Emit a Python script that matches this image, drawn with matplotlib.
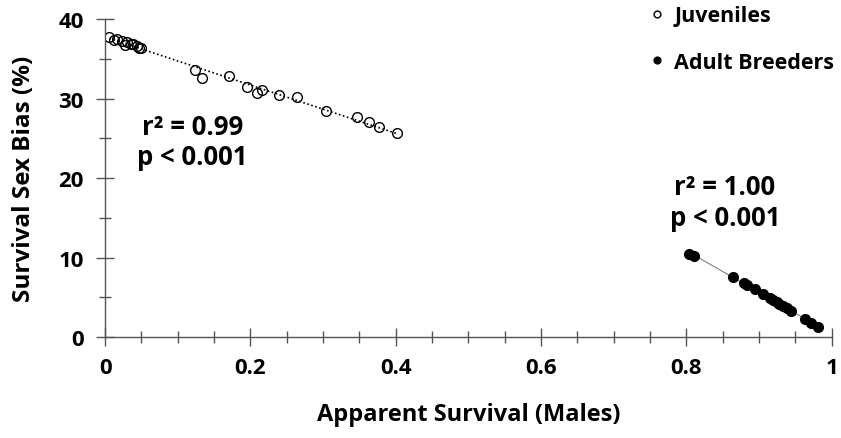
import numpy as np
import matplotlib.pyplot as plt
from matplotlib.ticker import MultipleLocator

plt.rcParams['font.family'] = ['Open Sans', 'DejaVu Sans']
plt.rcParams['font.weight'] = 'bold'

# juveniles: apparent survival of males vs survival sex bias (%)
juv_x = [0.006, 0.012, 0.017, 0.023, 0.028, 0.030, 0.035, 0.039, 0.044, 0.047, 0.050,
         0.124, 0.134, 0.171, 0.195, 0.209, 0.216, 0.239, 0.264, 0.304, 0.347, 0.363,
         0.377, 0.401]
juv_y = [37.7, 37.4, 37.5, 37.3, 36.7, 37.1, 36.9, 36.9, 36.6, 36.4, 36.4,
         33.6, 32.6, 32.8, 31.5, 30.7, 31.1, 30.4, 30.2, 28.5, 27.7, 27.0,
         26.4, 25.7]

# adult breeders
adu_x = [0.804, 0.810, 0.864, 0.879, 0.883, 0.895, 0.906, 0.915, 0.919, 0.924,
         0.928, 0.933, 0.938, 0.944, 0.963, 0.972, 0.981]
adu_y = [10.5, 10.2, 7.6, 6.8, 6.6, 6.0, 5.4, 4.9, 4.6, 4.4,
         4.1, 3.9, 3.6, 3.3, 2.3, 1.8, 1.2]

juv_stats = "r² = 0.99\np < 0.001"
adu_stats = "r² = 1.00\np < 0.001"

fig = plt.figure(figsize=(8.41, 4.39), dpi=100)
ax = fig.add_axes([0.125, 0.230, 0.864, 0.724])

# trendlines
jx = np.array(juv_x)
jf = np.polyfit(jx, juv_y, 1)
ax.plot([jx.min(), jx.max()], np.polyval(jf, [jx.min(), jx.max()]),
        ls=(0, (1, 1.5)), color='black', lw=1.2, zorder=1)
axx = np.array(adu_x)
af = np.polyfit(axx, adu_y, 1)
ax.plot([axx.min(), axx.max()], np.polyval(af, [axx.min(), axx.max()]),
        ls='-', color='#808080', lw=0.8, zorder=1)

ax.plot(juv_x, juv_y, 'o', mfc='none', mec='black', mew=1.0, ms=7,
        label='Juveniles', zorder=2)
ax.plot(adu_x, adu_y, 'o', mfc='black', mec='black', ms=7,
        label='Adult Breeders', zorder=2)

ax.text(0.12, 24.6, juv_stats, ha='center', va='center', fontsize=18.5,
        fontweight='bold', linespacing=1.15)
ax.text(0.853, 17.0, adu_stats, ha='center', va='center', fontsize=18.5,
        fontweight='bold', linespacing=1.15)

ax.set_xlim(0, 1)
ax.set_ylim(0, 40)
ax.xaxis.set_major_locator(MultipleLocator(0.2))
ax.xaxis.set_minor_locator(MultipleLocator(0.05))
ax.yaxis.set_major_locator(MultipleLocator(10))
ax.yaxis.set_minor_locator(MultipleLocator(5))
ax.set_xticks([0, 0.2, 0.4, 0.6, 0.8, 1])
ax.set_xticklabels(['0', '0.2', '0.4', '0.6', '0.8', '1'])

for s in ['top', 'right']:
    ax.spines[s].set_visible(False)
for s in ['left', 'bottom']:
    ax.spines[s].set_color('#555555')
    ax.spines[s].set_linewidth(1.0)

ax.tick_params(which='major', direction='inout', length=13, width=1.0,
               color='#555555', labelsize=16)
ax.tick_params(which='minor', direction='inout', length=9, width=1.0,
               color='#555555')
ax.tick_params(axis='x', which='major', pad=8)
ax.tick_params(axis='y', which='major', pad=9)
for lab in ax.get_xticklabels() + ax.get_yticklabels():
    lab.set_fontweight('bold')

ax.set_xlabel('Apparent Survival (Males)', fontsize=17, fontweight='bold', labelpad=17)
ax.set_ylabel('Survival Sex Bias (%)', fontsize=17.5, fontweight='bold', labelpad=16)

leg = ax.legend(loc='upper right', bbox_to_anchor=(1.03, 1.105), frameon=False,
                markerscale=0.7, handlelength=0.6, handletextpad=0.5,
                labelspacing=1.2, prop={'size': 15.5, 'weight': 'bold'})

fig.savefig('out.png', dpi=100)
